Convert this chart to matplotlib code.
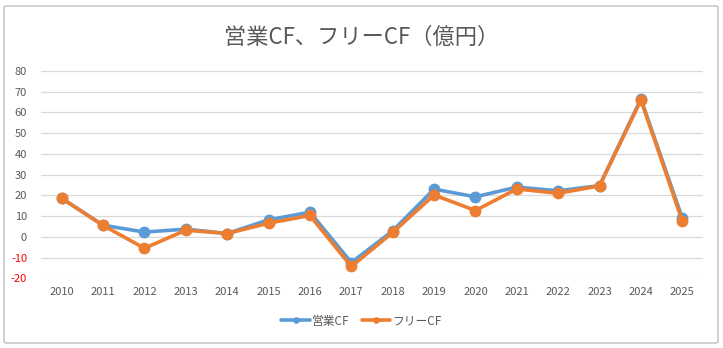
import matplotlib
matplotlib.use("Agg")
import matplotlib.pyplot as plt
from matplotlib.patches import FancyBboxPatch

plt.rcParams['font.family'] = ['Noto Sans CJK JP', 'DejaVu Sans']

years = [str(y) for y in range(2010, 2026)]
operating_cf = [18.6, 5.6, 2.3, 3.7, 1.6, 8.2, 11.9, -12.4, 2.9, 23.0, 19.3, 24.0, 22.2, 24.7, 66.5, 9.0]
free_cf = [18.6, 5.5, -5.5, 3.2, 1.6, 6.6, 10.3, -14.3, 2.1, 20.2, 12.7, 23.1, 21.0, 24.6, 66.0, 7.6]
y_ticks = list(range(-20, 81, 10))

title = "営業CF、フリーCF（億円）"
series_names = ["営業CF", "フリーCF"]

W, H = 723, 348
fig = plt.figure(figsize=(W / 100, H / 100), dpi=100)
fig.patch.set_facecolor("white")

# chart frame
frame = FancyBboxPatch((4 / W, 5 / H), 714 / W, 337 / H,
                       boxstyle="round,pad=0,rounding_size=0.004",
                       transform=fig.transFigure, facecolor="none",
                       edgecolor="#BFBFBF", linewidth=1.0, zorder=-1)
fig.patches.append(frame)

ax = fig.add_axes([41 / W, (H - 278.3) / H, (703 - 41) / W, (278.3 - 71) / H])
ax.set_facecolor("none")

x = list(range(len(years)))
blue = "#5B9BD5"
orange = "#ED7D31"
ax.plot(x, operating_cf, color=blue, lw=2.6, marker="o", ms=7.5,
        label=series_names[0], zorder=3, solid_capstyle="round")
ax.plot(x, free_cf, color=orange, lw=2.6, marker="o", ms=7.5,
        label=series_names[1], zorder=4, solid_capstyle="round")

ax.set_xlim(-0.5, len(years) - 0.5)
ax.set_ylim(-20, 80)
ax.set_yticks(y_ticks)
ax.set_yticklabels([str(v) for v in y_ticks])
ax.set_xticks(x)
ax.set_xticklabels(years)
for lbl, v in zip(ax.get_yticklabels(), y_ticks):
    lbl.set_color("#FF0000" if v < 0 else "#595959")
for lbl in ax.get_xticklabels():
    lbl.set_color("#595959")
ax.tick_params(axis="both", length=0, labelsize=8)
ax.tick_params(axis="y", pad=10)
ax.tick_params(axis="x", pad=6)
for s in ax.spines.values():
    s.set_visible(False)
ax.yaxis.grid(True, color="#D9D9D9", lw=0.9)
ax.set_axisbelow(True)

fig.text(0.5, (H - 37) / H, title, ha="center", va="center",
         fontsize=16, color="#595959")

leg = fig.legend(loc="center", bbox_to_anchor=(0.5, (H - 321) / H),
                 ncol=2, frameon=False, fontsize=8.5, handlelength=2.4,
                 columnspacing=1.0, handletextpad=0.2, markerscale=0.5)
for t in leg.get_texts():
    t.set_color("#595959")

fig.savefig("out.png", dpi=100, facecolor="white")
